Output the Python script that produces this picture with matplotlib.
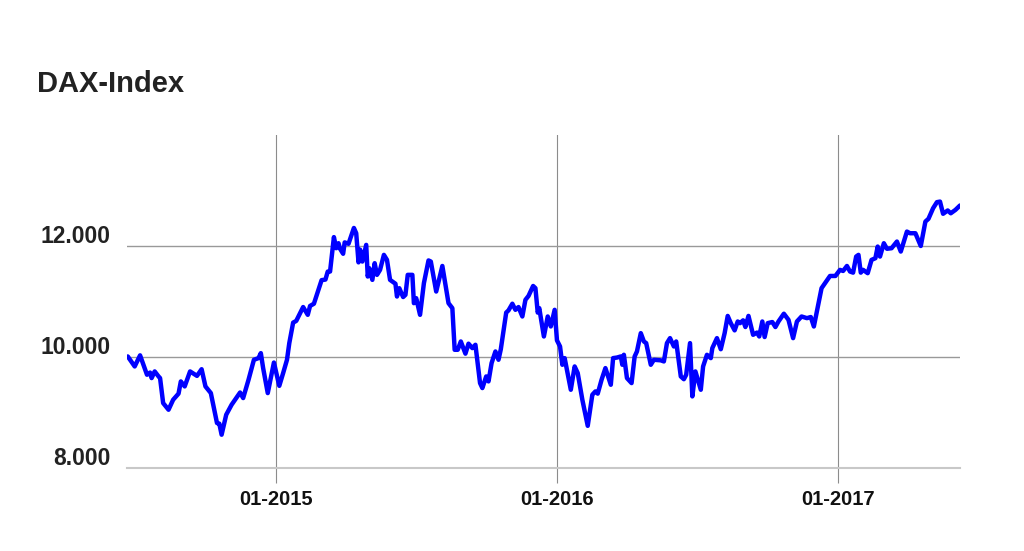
import matplotlib
matplotlib.use("Agg")
import matplotlib.pyplot as plt
import matplotlib.transforms as mtransforms
import pandas as pd

title = "DAX-Index"

dates = [
    "2014-06-22", "2014-07-01", "2014-07-08", "2014-07-17", "2014-07-21", "2014-07-23",
    "2014-07-27", "2014-08-01", "2014-08-03", "2014-08-07", "2014-08-14", "2014-08-20",
    "2014-08-27", "2014-08-30", "2014-09-04", "2014-09-11", "2014-09-20", "2014-09-26",
    "2014-10-01", "2014-10-08", "2014-10-16", "2014-10-19", "2014-10-22", "2014-10-28",
    "2014-11-04", "2014-11-11", "2014-11-15", "2014-11-19", "2014-11-26", "2014-12-03",
    "2014-12-09", "2014-12-12", "2014-12-15", "2014-12-21", "2014-12-29",
    "2015-01-05", "2015-01-10", "2015-01-15", "2015-01-18", "2015-01-23", "2015-01-27",
    "2015-02-05", "2015-02-11", "2015-02-14", "2015-02-19", "2015-03-01", "2015-03-06",
    "2015-03-09", "2015-03-12", "2015-03-17", "2015-03-20", "2015-03-23", "2015-03-25",
    "2015-03-29", "2015-03-31", "2015-04-05", "2015-04-12", "2015-04-15", "2015-04-18",
    "2015-04-20", "2015-04-23", "2015-04-28", "2015-04-30", "2015-05-02", "2015-05-06",
    "2015-05-09", "2015-05-12", "2015-05-16", "2015-05-21", "2015-05-25", "2015-05-29",
    "2015-06-05", "2015-06-07", "2015-06-10", "2015-06-15", "2015-06-18", "2015-06-21",
    "2015-06-27", "2015-06-29", "2015-07-02", "2015-07-07", "2015-07-12", "2015-07-18",
    "2015-07-21", "2015-07-28", "2015-08-05", "2015-08-09", "2015-08-13", "2015-08-18",
    "2015-08-21", "2015-08-25", "2015-08-29", "2015-09-04", "2015-09-08", "2015-09-13",
    "2015-09-17", "2015-09-23", "2015-09-26", "2015-10-01", "2015-10-04", "2015-10-08",
    "2015-10-13", "2015-10-17", "2015-10-20", "2015-10-27", "2015-10-30", "2015-11-04",
    "2015-11-08", "2015-11-12", "2015-11-17", "2015-11-21", "2015-11-25", "2015-12-01",
    "2015-12-04", "2015-12-07", "2015-12-09", "2015-12-15", "2015-12-20", "2015-12-24",
    "2015-12-29",
    "2016-01-01", "2016-01-05", "2016-01-08", "2016-01-11", "2016-01-14", "2016-01-19",
    "2016-01-24", "2016-01-28", "2016-02-03", "2016-02-10", "2016-02-16", "2016-02-20",
    "2016-02-23", "2016-02-28", "2016-03-04", "2016-03-11", "2016-03-14", "2016-03-19",
    "2016-03-24", "2016-03-26", "2016-03-28", "2016-04-01", "2016-04-07", "2016-04-11",
    "2016-04-14", "2016-04-19", "2016-04-23", "2016-04-26", "2016-05-02", "2016-05-06",
    "2016-05-15", "2016-05-19", "2016-05-23", "2016-05-27", "2016-06-01", "2016-06-04",
    "2016-06-10", "2016-06-14", "2016-06-17", "2016-06-22", "2016-06-25", "2016-06-29",
    "2016-07-06", "2016-07-09", "2016-07-14", "2016-07-19", "2016-07-21", "2016-07-27",
    "2016-08-01", "2016-08-06", "2016-08-10", "2016-08-14", "2016-08-19", "2016-08-23",
    "2016-08-26", "2016-08-30", "2016-09-02", "2016-09-06", "2016-09-12", "2016-09-17",
    "2016-09-20", "2016-09-24", "2016-09-27", "2016-10-01", "2016-10-07", "2016-10-11",
    "2016-10-15", "2016-10-22", "2016-10-28", "2016-11-03", "2016-11-08", "2016-11-14",
    "2016-11-21", "2016-11-26", "2016-11-30", "2016-12-10", "2016-12-17", "2016-12-21",
    "2016-12-28",
    "2017-01-03", "2017-01-07", "2017-01-12", "2017-01-16", "2017-01-20", "2017-01-24",
    "2017-01-27", "2017-01-30", "2017-02-02", "2017-02-08", "2017-02-13", "2017-02-18",
    "2017-02-21", "2017-02-24", "2017-03-01", "2017-03-05", "2017-03-11", "2017-03-18",
    "2017-03-23", "2017-03-31", "2017-04-04", "2017-04-11", "2017-04-18", "2017-04-24",
    "2017-04-28", "2017-05-04", "2017-05-09", "2017-05-13", "2017-05-17", "2017-05-23",
    "2017-05-27", "2017-06-02", "2017-06-08",
]

values = [
    10010, 9830, 10030, 9680, 9720, 9620,
    9740, 9650, 9620, 9170, 9050, 9230,
    9340, 9560, 9470, 9740, 9660, 9780,
    9470, 9350, 8810, 8800, 8600, 8960,
    9140, 9280, 9360, 9260, 9590, 9950,
    9980, 10070, 9800, 9350, 9900,
    9480, 9710, 9950, 10250, 10620, 10650,
    10900, 10760, 10920, 10960, 11385, 11395,
    11540, 11540, 12160, 11960, 12050, 11950,
    11860, 12065, 12040, 12325, 12230, 11705,
    11935, 11720, 12020, 11450, 11600, 11390,
    11690, 11480, 11570, 11840, 11750, 11390,
    11320, 11090, 11240, 11080, 11120, 11480,
    11480, 10970, 11060, 10760, 11330, 11740,
    11720, 11180, 11640, 11300, 10970, 10880,
    10130, 10130, 10280, 10060, 10240, 10160,
    10220, 9530, 9440, 9650, 9560, 9890,
    10100, 9950, 10140, 10800, 10840, 10960,
    10850, 10900, 10730, 11030, 11100, 11280,
    11240, 10800, 10880, 10370, 10730, 10550,
    10850,
    10300, 10190, 9860, 9980, 9770, 9410,
    9830, 9710, 9230, 8760, 9320, 9380,
    9340, 9590, 9800, 9500, 9980, 9990,
    10010, 9860, 10040, 9620, 9530, 10010,
    10100, 10430, 10280, 10250, 9860, 9950,
    9940, 9920, 10250, 10340, 10190, 10280,
    9650, 9600, 9680, 10250, 9290, 9740,
    9410, 9830, 10040, 9980, 10160, 10340,
    10140, 10430, 10740, 10610, 10480, 10640,
    10610, 10660, 10540, 10740, 10400, 10440,
    10370, 10640, 10360, 10610, 10630, 10540,
    10640, 10780, 10670, 10340, 10640, 10730,
    10700, 10720, 10550, 11240, 11380, 11460,
    11460,
    11570, 11550, 11640, 11540, 11520, 11810,
    11840, 11520, 11570, 11510, 11750, 11780,
    11990, 11810, 12050, 11950, 11960, 12080,
    11900, 12260, 12230, 12230, 12000, 12440,
    12490, 12680, 12790, 12800, 12580, 12640,
    12590, 12650, 12730,
]

xtick_dates = ["2015-01-01", "2016-01-01", "2017-01-01"]
xtick_labels = ["01-2015", "01-2016", "01-2017"]
ytick_values = [8000, 10000, 12000]
ytick_labels = ["8.000", "10.000", "12.000"]
x_range = ["2014-06-21", "2017-06-08"]
y_range = [8000, 14000]

fig = plt.figure(figsize=(10.24, 5.51), dpi=100)
fig.patch.set_facecolor("white")
ax = fig.add_axes([127 / 1024, 1 - 468 / 551, (960 - 127) / 1024, (468 - 135) / 551])

ax.plot(pd.to_datetime(dates), values, color="#0000ff", lw=3.2,
        solid_joinstyle="round", solid_capstyle="round", zorder=3)

ax.set_xlim(pd.Timestamp(x_range[0]), pd.Timestamp(x_range[1]))
ax.set_ylim(*y_range)

for s in ["top", "right", "left"]:
    ax.spines[s].set_visible(False)
ax.spines["bottom"].set_color("#c8c8c8")
ax.spines["bottom"].set_linewidth(1.5)

# y axis: gridlines + labels above gridlines
ax.set_yticks(ytick_values)
ax.set_yticklabels([])
ax.tick_params(axis="y", length=0)
ax.grid(axis="y", color="#999999", lw=1.0)
ax.set_axisbelow(True)

trans = mtransforms.offset_copy(
    mtransforms.blended_transform_factory(ax.transAxes, ax.transData),
    fig=fig, x=0, y=2.0, units="points")
for v, lab in zip(ytick_values, ytick_labels):
    ax.text(-0.02, v, lab, transform=trans, ha="right", va="baseline",
            fontsize=16.5, fontweight="bold", family=["Liberation Sans", "DejaVu Sans"],
            color="#222222")

# x axis
ax.set_xticks(pd.to_datetime(xtick_dates))
ax.set_xticklabels(xtick_labels)
ax.tick_params(axis="x", length=11, width=0.8, color="#8c8c8c", pad=4.5)
for lab in ax.get_xticklabels():
    lab.set_fontsize(14.5)
    lab.set_fontweight("bold")
    lab.set_family(["Liberation Sans", "DejaVu Sans"])
    lab.set_color("#111111")
ax.grid(axis="x", color="#8c8c8c", lw=0.8)

fig.text(37 / 1024, 1 - 92 / 551, title, fontsize=21, fontweight="bold",
         family=["Liberation Sans", "DejaVu Sans"], color="#222222", va="baseline")

fig.savefig("out.png", dpi=100, facecolor="white")
